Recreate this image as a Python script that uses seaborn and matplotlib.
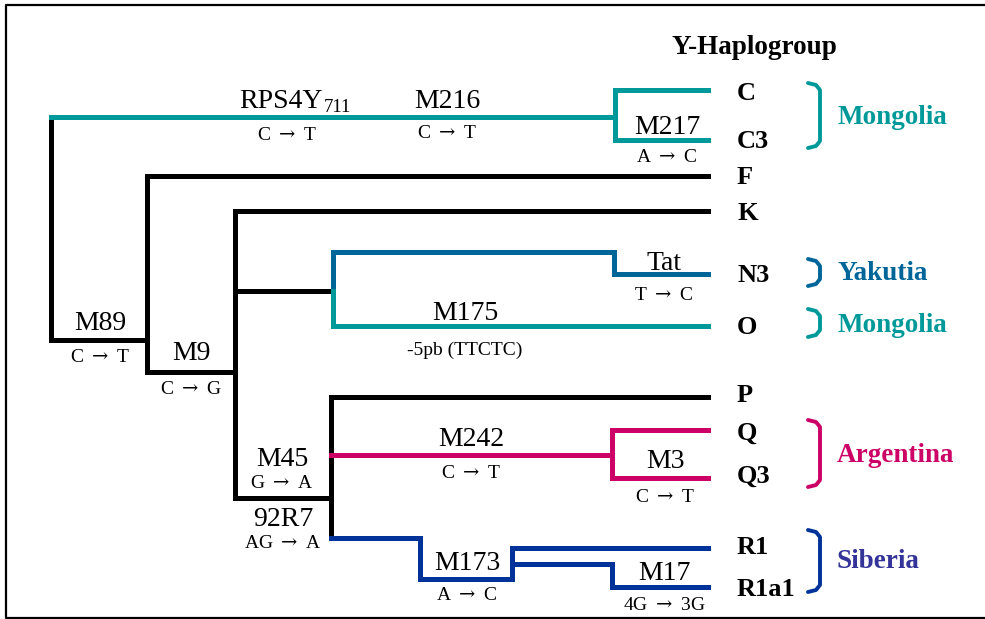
import numpy as np
import pandas as pd
import seaborn as sns
import matplotlib.pyplot as plt

# Colours of the lineages
TEAL = "#009999"
STEEL = "#006699"
MAGENTA = "#CC0066"
NAVY = "#003399"
INDIGO = "#333399"
BLACK = "#000000"

ARROW = r"$\rightarrow$"

# Tip (haplogroup) labels and their rows
tip_labels = ["C", "C3", "F", "K", "N3", "O", "P", "Q", "Q3", "R1", "R1a1"]
tip_rows = [91, 139, 176, 211, 274, 326, 394, 431, 474, 545, 587]

# Branch paths: x values (depth) and y values (rows), one list per branch
branch_x = [
    [51, 51, 147],            # root -> M89
    [51, 615],                # teal trunk
    [708, 615, 615, 708],     # C / C3
    [147, 147, 708],          # F
    [147, 147, 235],          # M9
    [235, 235, 708],          # K
    [235, 235, 331],          # M45
    [235, 333],               # to N/O node
    [333, 333, 614, 614, 708],  # N3
    [333, 333, 708],          # O
    [331, 331, 708],          # P
    [331, 331],               # lower part of M45 node
    [331, 612],               # M242
    [708, 612, 612, 708],     # Q / Q3
    [331, 420, 420, 512, 512, 708],  # M173 -> R1
    [512, 612, 612, 708],     # M17 -> R1a1
]
branch_y = [
    [117, 340, 340],
    [117, 117],
    [90, 90, 140, 140],
    [340, 176, 176],
    [176, 372, 372],
    [291, 211, 211],
    [291, 498, 498],
    [291, 291],
    [291, 252, 252, 274, 274],
    [291, 326, 326],
    [498, 397, 397],
    [498, 538],
    [455, 455],
    [430, 430, 478, 478],
    [538, 538, 579, 579, 548, 548],
    [564, 564, 587, 587],
]
branch_colors = [BLACK, TEAL, TEAL, BLACK, BLACK, BLACK, BLACK, BLACK,
                 STEEL, TEAL, BLACK, BLACK, MAGENTA, MAGENTA, NAVY, NAVY]

# Mutation labels: name, change, x centre, name row, change row
mut_names = ["M216", "M217", "M89", "M9", "M175", "Tat", "M45",
             "92R7", "M242", "M173", "M3", "M17"]
mut_changes = ["C " + ARROW + " T", "A " + ARROW + " C", "C " + ARROW + " T",
               "C " + ARROW + " G", "-5pb (TTCTC)", "T " + ARROW + " C",
               "G " + ARROW + " A", "AG " + ARROW + " A", "C " + ARROW + " T",
               "A " + ARROW + " C", "C " + ARROW + " T", "4G " + ARROW + " 3G"]
mut_x = [447, 667, 100, 191, 465, 664, 282, 283, 471, 467, 665, 664]
mut_name_row = [101, 128, 324, 354, 314, 263, 459, 519, 439, 563, 462, 574]
mut_change_row = [134, 158, 358, 389, 350, 295, 484, 543, 474, 595, 497, 605]

# Regions: label, colour, bracket top and bottom, text row
region_labels = ["Mongolia", "Yakutia", "Mongolia", "Argentina", "Siberia"]
region_colors = [TEAL, STEEL, TEAL, MAGENTA, INDIGO]
bracket_colors = [TEAL, STEEL, TEAL, MAGENTA, NAVY]
bracket_top = [83, 259, 309, 420, 530]
bracket_bottom = [148, 286, 337, 487, 592]
region_rows = [118, 273, 326, 456, 561]

sns.set_theme(style="white")
plt.rcParams['font.family'] = ['Liberation Serif', 'DejaVu Serif']
plt.rcParams['text.color'] = 'black'
plt.rcParams['mathtext.fontset'] = 'dejavuserif'

fig = plt.figure(figsize=(9.85, 6.19), dpi=100)
ax = fig.add_axes([0, 0, 1, 1])

for xs, ys, col in zip(branch_x, branch_y, branch_colors):
    df = pd.DataFrame({"x": xs, "y": ys})
    sns.lineplot(data=df, x="x", y="y", sort=False, estimator=None, ax=ax,
                 color=col, linewidth=3.6, solid_capstyle="projecting",
                 solid_joinstyle="miter")

# brackets next to region names
for top, bot, col in zip(bracket_top, bracket_bottom, bracket_colors):
    bx = [808, 816, 820, 820, 816, 808]
    by = [top, top + 2, top + 7, bot - 7, bot - 2, bot]
    ax.plot(bx, by, color=col, lw=2.8, solid_capstyle="round",
            solid_joinstyle="round")

# outer frame (top, left, bottom)
ax.plot([990, 6, 6, 990], [5, 5, 618, 618], color="black", lw=1.6)

# tip labels
for lab, row in zip(tip_labels, tip_rows):
    ax.text(737, row + 2, lab, fontsize=19, fontweight="bold",
            ha="left", va="center")

ax.text(754, 47, "Y-Haplogroup", fontsize=19.5, fontweight="bold",
        ha="center", va="center")

# RPS4Y with subscript
ax.text(323, 101, "RPS4Y", fontsize=20, ha="right", va="center")
ax.text(324, 107, "711", fontsize=13.5, ha="left", va="center")
ax.text(287, 135, "C " + ARROW + " T", fontsize=14, ha="center", va="center")

for name, chg, x, r1, r2 in zip(mut_names, mut_changes, mut_x,
                                mut_name_row, mut_change_row):
    ax.text(x, r1, name, fontsize=20, ha="center", va="center")
    ax.text(x, r2, chg, fontsize=14, ha="center", va="center")

for lab, col, row in zip(region_labels, region_colors, region_rows):
    ax.text(837, row, lab, fontsize=19.5, fontweight="bold", color=col,
            ha="left", va="center")

ax.set_xlim(0, 985)
ax.set_ylim(619, 0)
ax.set_xlabel("")
ax.set_ylabel("")
ax.axis("off")

fig.savefig("out.png", dpi=100)
